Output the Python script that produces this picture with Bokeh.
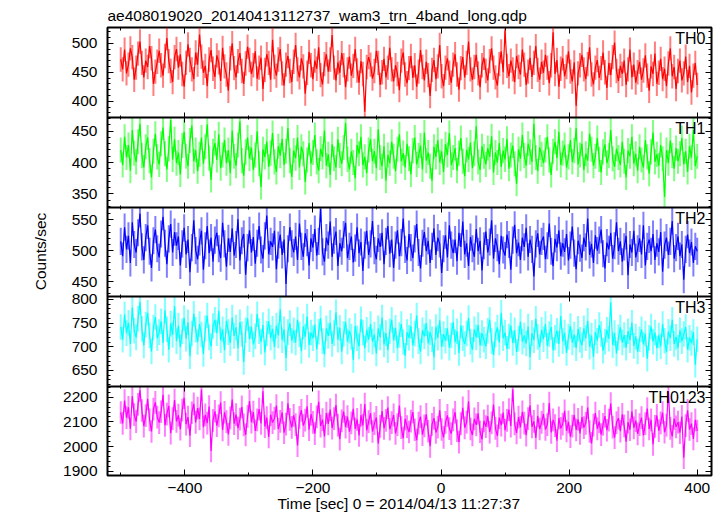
from bokeh.plotting import figure
from bokeh.models import (LinearAxis, SingleIntervalTicker, FixedTicker, CustomJSTickFormatter,
                          Label, Range1d, ColumnDataSource, Span)
from bokeh.embed import file_html
from bokeh.resources import INLINE

TITLE = "ae408019020_20140413112737_wam3_trn_4band_long.qdp"
X_LABEL = "Time [sec] 0 = 2014/04/13 11:27:37"
Y_LABEL = "Counts/sec"
BANDS = ["TH0", "TH1", "TH2", "TH3", "TH0123"]
COLORS = ["#ff0000", "#00ff00", "#0000ff", "#00ffff", "#ff00ff"]
ERRORS = [21, 20, 22, 27, 46]
T_START = -500
T_STEP = 3

TH0 = [472, 455, 489, 448, 463, 491, 476, 437, 458, 482,
       503, 466, 441, 470, 459, 495, 474, 430, 451, 468,
       487, 462, 444, 478, 509, 469, 452, 433, 476, 490,
       458, 481, 447, 425, 466, 498, 471, 455, 438, 484,
       463, 515, 477, 449, 461, 426, 472, 488, 456, 442,
       479, 467, 435, 492, 460, 446, 418, 474, 500, 457,
       441, 469, 483, 452, 430, 465, 494, 471, 447, 462,
       486, 439, 458, 475, 421, 454, 481, 466, 437, 506,
       459, 444, 472, 490, 448, 427, 463, 478, 452, 433,
       468, 497, 455, 441, 474, 460, 413, 449, 485, 462,
       438, 470, 456, 493, 445, 429, 464, 481, 451, 472,
       514, 458, 436, 467, 449, 483, 462, 424, 455, 477,
       444, 461, 490, 453, 432, 469, 447, 382, 459, 476,
       463, 439, 452, 487, 466, 428, 450, 473, 441, 458,
       492, 455, 434, 462, 447, 419, 470, 484, 446, 431,
       457, 478, 440, 462, 425, 451, 488, 459, 436, 468,
       445, 409, 454, 471, 438, 460, 497, 443, 426, 458,
       474, 449, 432, 463, 481, 446, 420, 457, 476, 441,
       466, 503, 455, 437, 459, 480, 448, 424, 462, 475,
       452, 436, 469, 491, 458, 441, 427, 464, 486, 450,
       522, 461, 443, 470, 455, 433, 478, 459, 446, 489,
       463, 428, 451, 475, 442, 466, 495, 454, 437, 468,
       449, 480, 458, 431, 462, 519, 447, 471, 425, 456,
       474, 443, 459, 486, 451, 434, 467, 392, 448, 462,
       480, 455, 438, 464, 493, 446, 429, 458, 471, 440,
       457, 484, 450, 423, 466, 445, 476, 501, 452, 435,
       461, 447, 470, 428, 455, 489, 441, 463, 432, 450,
       468, 437, 453, 479, 444, 418, 460, 447, 482, 430,
       449, 473, 438, 456, 426, 465, 491, 443, 459, 421,
       452, 470, 436, 448, 477, 433, 461, 415, 444, 466,
       428]

TH1 = [420, 396, 441, 408, 428, 387, 452, 415, 401, 433,
       462, 411, 392, 425, 440, 403, 376, 418, 446, 409,
       397, 430, 456, 414, 389, 422, 468, 405, 437, 399,
       416, 381, 427, 449, 410, 394, 435, 459, 402, 420,
       386, 413, 440, 398, 425, 461, 407, 372, 418, 431,
       404, 445, 391, 412, 436, 399, 420, 383, 451, 410,
       395, 428, 466, 403, 379, 417, 440, 406, 424, 388,
       412, 450, 398, 361, 421, 409, 434, 393, 415, 447,
       401, 385, 426, 411, 438, 396, 418, 455, 403, 377,
       419, 407, 440, 392, 425, 414, 369, 404, 431, 398,
       416, 444, 401, 387, 422, 409, 451, 395, 413, 380,
       429, 406, 392, 437, 411, 398, 424, 463, 405, 389,
       418, 400, 375, 428, 414, 441, 396, 409, 383, 420,
       437, 402, 418, 391, 453, 408, 394, 426, 371, 412,
       399, 433, 410, 386, 421, 445, 402, 415, 392, 430,
       406, 381, 419, 440, 397, 411, 427, 389, 448, 403,
       416, 394, 371, 425, 409, 436, 400, 418, 385, 429,
       412, 447, 396, 408, 423, 387, 415, 439, 402, 378,
       420, 405, 432, 391, 414, 458, 401, 388, 426, 410,
       397, 423, 409, 442, 384, 416, 400, 431, 393, 419,
       405, 438, 390, 412, 427, 398, 366, 421, 406, 444,
       411, 395, 430, 417, 401, 462, 408, 386, 424, 413,
       399, 420, 441, 404, 380, 418, 433, 407, 449, 396,
       415, 428, 392, 409, 436, 401, 419, 455, 397, 412,
       430, 388, 414, 403, 446, 421, 395, 410, 439, 405,
       384, 417, 429, 399, 411, 452, 406, 393, 422, 408,
       396, 433, 402, 376, 419, 410, 441, 398, 414, 387,
       425, 404, 392, 436, 409, 382, 417, 448, 401, 413,
       395, 428, 406, 345, 420, 399, 435, 411, 390, 423,
       402, 414, 439, 397, 418, 385, 426, 408, 452, 394,
       410]

TH2 = [515, 491, 538, 502, 524, 480, 546, 510, 497, 529,
       560, 506, 485, 521, 541, 499, 472, 516, 534, 503,
       489, 527, 555, 512, 478, 519, 543, 497, 530, 508,
       523, 476, 511, 537, 494, 518, 465, 505, 549, 500,
       486, 514, 532, 469, 508, 540, 496, 521, 482, 517,
       529, 503, 488, 545, 511, 474, 520, 498, 536, 492,
       510, 551, 484, 516, 527, 461, 505, 533, 497, 522,
       479, 512, 540, 501, 487, 524, 557, 494, 515, 506,
       532, 470, 509, 526, 493, 518, 446, 503, 538, 511,
       497, 523, 485, 544, 507, 490, 528, 513, 476, 520,
       505, 535, 492, 515, 568, 498, 482, 521, 509, 547,
       490, 517, 531, 475, 512, 499, 526, 545, 488, 507,
       523, 481, 504, 538, 496, 514, 467, 509, 532, 493,
       511, 548, 500, 486, 520, 506, 529, 478, 515, 540,
       495, 518, 472, 509, 533, 491, 513, 552, 502, 484,
       527, 505, 488, 519, 543, 497, 471, 512, 530, 499,
       516, 480, 507, 536, 493, 521, 511, 464, 503, 525,
       489, 541, 509, 496, 518, 483, 529, 506, 547, 494,
       512, 475, 522, 503, 490, 535, 499, 516, 468, 508,
       531, 497, 514, 549, 487, 520, 505, 478, 524, 501,
       492, 526, 510, 469, 517, 542, 496, 513, 485, 521,
       506, 537, 490, 518, 502, 458, 511, 528, 494, 515,
       523, 486, 508, 544, 499, 475, 519, 505, 533, 491,
       512, 498, 527, 484, 509, 539, 496, 470, 516, 504,
       488, 521, 506, 552, 493, 511, 480, 525, 500, 517,
       534, 495, 471, 513, 502, 529, 487, 508, 546, 499,
       515, 482, 506, 524, 460, 510, 497, 532, 489, 503,
       520, 494, 541, 476, 507, 518, 499, 527, 485, 512,
       498, 530, 466, 509, 521, 493, 515, 548, 487, 505,
       523, 491, 510, 453, 502, 526, 496, 514, 480, 507,
       499]

TH3 = [742, 715, 768, 729, 751, 706, 783, 734, 720, 759,
       795, 738, 703, 747, 772, 724, 690, 741, 763, 718,
       731, 754, 708, 777, 737, 694, 749, 725, 786, 712,
       745, 699, 733, 761, 717, 752, 680, 728, 770, 736,
       710, 748, 726, 685, 739, 766, 720, 701, 744, 757,
       729, 776, 714, 737, 693, 755, 731, 708, 762, 723,
       741, 697, 752, 727, 668, 735, 760, 716, 743, 705,
       722, 769, 733, 711, 746, 688, 728, 754, 719, 738,
       700, 745, 724, 779, 714, 737, 676, 731, 750, 713,
       735, 709, 757, 726, 691, 743, 721, 764, 704, 730,
       718, 747, 695, 732, 760, 712, 684, 739, 723, 751,
       706, 729, 773, 715, 740, 690, 727, 753, 711, 734,
       721, 672, 744, 718, 701, 758, 730, 697, 736, 715,
       748, 711, 726, 686, 739, 720, 762, 705, 729, 693,
       733, 757, 714, 740, 697, 725, 748, 710, 681, 731,
       719, 744, 703, 728, 766, 712, 690, 735, 722, 750,
       707, 731, 716, 678, 742, 719, 756, 700, 727, 713,
       739, 698, 724, 752, 710, 733, 687, 745, 718, 706,
       728, 761, 711, 694, 737, 720, 746, 703, 729, 715,
       701, 734, 757, 712, 683, 726, 741, 709, 772, 718,
       730, 696, 722, 745, 708, 735, 689, 717, 753, 711,
       724, 707, 743, 678, 729, 714, 759, 721, 699, 736,
       716, 748, 702, 727, 742, 693, 719, 734, 706, 765,
       712, 730, 687, 721, 744, 709, 726, 697, 738, 715,
       703, 739, 718, 755, 700, 724, 679, 731, 713, 746,
       727, 692, 711, 736, 717, 794, 704, 729, 686, 720,
       741, 709, 725, 698, 733, 714, 751, 702, 722, 690,
       716, 737, 705, 728, 675, 719, 743, 711, 730, 697,
       724, 701, 748, 713, 689, 732, 718, 757, 706, 721,
       698, 735, 712, 727, 742, 694, 719, 708, 731, 662,
       716]

TH0123 = [2138, 2094, 2186, 2117, 2159, 2072, 2204, 2129, 2101, 2171,
          2228, 2146, 2083, 2125, 2193, 2108, 2061, 2152, 2179, 2119,
          2097, 2141, 2210, 2086, 2132, 2165, 2054, 2113, 2188, 2102,
          2127, 2070, 2148, 2198, 2091, 2119, 2044, 2137, 2173, 2098,
          2156, 2112, 2231, 2079, 2128, 2095, 2162, 1982, 2106, 2143,
          2085, 2124, 2178, 2067, 2139, 2101, 2049, 2116, 2190, 2093,
          2130, 2075, 2111, 2161, 2088, 2047, 2122, 2184, 2099, 2140,
          2063, 2108, 2152, 2094, 2224, 2081, 2117, 2039, 2129, 2097,
          2114, 2166, 2071, 2102, 2138, 2056, 2091, 2175, 2110, 2078,
          2126, 2089, 2004, 2118, 2147, 2085, 2107, 2163, 2068, 2131,
          2098, 2052, 2120, 2181, 2083, 2109, 2041, 2136, 2092, 2150,
          2075, 2113, 2168, 2087, 2030, 2104, 2142, 2079, 2121, 2060,
          2096, 2153, 2072, 2110, 2045, 2127, 2086, 2172, 2066, 2101,
          2135, 2061, 2093, 2118, 2012, 2082, 2144, 2074, 2106, 2158,
          2070, 2097, 2128, 2053, 2089, 2166, 2077, 2034, 2112, 2081,
          2059, 2103, 2140, 2068, 2026, 2095, 2121, 2048, 2084, 2131,
          2062, 2001, 2090, 2115, 2057, 2079, 2147, 2069, 2037, 2098,
          2126, 2073, 2052, 2108, 2139, 2064, 2018, 2093, 2157, 2076,
          2099, 2183, 2071, 2047, 2112, 2088, 2135, 2060, 2029, 2104,
          2081, 2123, 2058, 2096, 2170, 2074, 2043, 2117, 2087, 2138,
          2066, 2106, 2150, 2083, 2232, 2092, 2055, 2119, 2078, 2141,
          2095, 2046, 2113, 2167, 2080, 2102, 2035, 2124, 2071, 2098,
          2132, 2069, 2089, 2176, 2057, 2108, 2085, 2024, 2116, 2074,
          2091, 2145, 2063, 2100, 2040, 2083, 2128, 2067, 2110, 2053,
          2119, 2077, 2094, 2158, 2061, 2013, 2087, 2136, 2072, 2101,
          2048, 2090, 2123, 2066, 2107, 2174, 2079, 2036, 2097, 2115,
          2062, 2131, 2084, 2020, 2099, 2068, 2143, 2076, 2105, 2051,
          2089, 2117, 2045, 2093, 2154, 2071, 2108, 2009, 2082, 2126,
          2064, 2096, 2138, 2058, 2087, 2223, 2074, 2041, 2113, 2080,
          2099, 2056, 2122, 1955, 2085, 2147, 2069, 2093, 2031, 2108,
          2063]

SERIES = [TH0, TH1, TH2, TH3, TH0123]
Y_RANGES = [(371.9, 527.1), (328.1, 471.9), (425.7, 569.9), (616.2, 806.3), (1882.6, 2243.4)]
Y_TICK = [50, 50, 50, 50, 100]
X_RANGE = (-520.7, 422.3)
X_TICK = 200

# ---- layout in pixels ----
FIG_W, FIG_H = 723, 516
B_LEFT, B_RIGHT, B_TOP, B_BOTTOM = 107, 12, 27, 41
FRAME_W = FIG_W - B_LEFT - B_RIGHT
FRAME_H = FIG_H - B_TOP - B_BOTTOM          # 448
PANEL_H = [90, 90, 89, 90, 89]               # top to bottom
FONT = "Liberation Sans"
FS = "15.5px"
NBSP = "\u00a0"

px_x = FRAME_W / (X_RANGE[1] - X_RANGE[0])

bases = []
acc = FRAME_H
for h in PANEL_H:
    acc -= h
    bases.append(acc)

p = figure(width=FIG_W, height=FIG_H, output_backend="svg", toolbar_location=None,
           x_range=Range1d(*X_RANGE), y_range=Range1d(0, FRAME_H),
           x_axis_location=None, y_axis_location=None,
           min_border_left=B_LEFT, min_border_right=B_RIGHT,
           min_border_top=B_TOP, min_border_bottom=B_BOTTOM)
p.xgrid.visible = False
p.ygrid.visible = False
p.outline_line_color = "black"
p.outline_line_width = 2
p.background_fill_color = "white"
p.border_fill_color = "white"

p.title.text = TITLE
p.title.align = "left"
p.title.text_font = FONT
p.title.text_font_size = FS
p.title.text_font_style = "normal"
p.title.text_color = "black"
p.title.standoff = 7

empty_fmt = CustomJSTickFormatter(code="return '';")
minus_fmt = CustomJSTickFormatter(code="return tick < 0 ? '\u2212' + String(-tick) : String(tick);")


def style(ax, labels, t_in=6, t_out=0, m_in=3, m_out=0):
    ax.axis_line_color = None
    ax.major_tick_in = t_in
    ax.major_tick_out = t_out
    ax.minor_tick_in = m_in
    ax.minor_tick_out = m_out
    ax.major_tick_line_color = "black"
    ax.minor_tick_line_color = "black"
    ax.major_label_text_font = FONT
    ax.major_label_text_font_size = FS
    ax.major_label_text_color = "black"
    ax.axis_label_text_font = FONT
    ax.axis_label_text_font_size = FS
    ax.axis_label_text_font_style = "normal"
    ax.axis_label_text_color = "black"
    if not labels:
        ax.formatter = empty_fmt


label_pos, label_txt = [], []
for i, vals in enumerate(SERIES):
    y0, y1 = Y_RANGES[i]
    h = PANEL_H[i]
    b = bases[i]
    u = (y1 - y0) / h
    start = y0 - b * u
    name = "p%d" % i
    p.extra_y_ranges[name] = Range1d(start, start + FRAME_H * u)

    # where this panel's tick values sit on the shared left label axis
    step = Y_TICK[i]
    v = step * int(-(-y0 // step))
    while v <= y1:
        label_pos.append(b + (v - y0) / u)
        label_txt.append(str(int(v)))
        v += step

    err = ERRORS[i]
    t = [T_START + T_STEP * k for k in range(len(vals))]
    src = ColumnDataSource(dict(t=t, v=vals,
                                lo=[max(v - err, y0) for v in vals],
                                hi=[min(v + err, y1) for v in vals]))
    p.segment(x0="t", y0="lo", x1="t", y1="hi", source=src, y_range_name=name,
              line_color=COLORS[i], line_alpha=0.5, line_width=2)
    p.line(x="t", y="v", source=src, y_range_name=name,
           line_color=COLORS[i], line_width=1.2)

    yl = LinearAxis(y_range_name=name, fixed_location=X_RANGE[0], bounds=(y0, y1),
                    ticker=SingleIntervalTicker(interval=Y_TICK[i], num_minor_ticks=5))
    style(yl, False)
    p.add_layout(yl, "left")
    yr = LinearAxis(y_range_name=name, fixed_location=X_RANGE[1], bounds=(y0, y1),
                    ticker=SingleIntervalTicker(interval=Y_TICK[i], num_minor_ticks=5))
    style(yr, False)
    p.add_layout(yr, "right")

    p.add_layout(Label(x=X_RANGE[1] - 6 / px_x, y=b + h - 10.8, text=BANDS[i],
                       text_align="right", text_baseline="alphabetic",
                       text_font=FONT, text_font_size="16px", text_color="black"))

    if i > 0:
        p.add_layout(Span(location=b + h, dimension="width",
                          line_color="black", line_width=2))
        xm = LinearAxis(fixed_location=b + h,
                        ticker=SingleIntervalTicker(interval=X_TICK, num_minor_ticks=2))
        style(xm, False, 5, 5, 2, 2)
        p.add_layout(xm, "below")

# shared left axis carrying the tick labels of all panels and the y title
order = sorted(range(len(label_pos)), key=lambda k: label_pos[k])
label_pos = [label_pos[k] for k in order]
label_txt = [label_txt[k] for k in order]
lab_fmt = CustomJSTickFormatter(args=dict(pos=label_pos, txt=label_txt), code="""
let best = 0;
for (let k = 0; k < pos.length; k++) {
  if (Math.abs(pos[k] - tick) < Math.abs(pos[best] - tick)) best = k;
}
return txt[best];
""")
ylab = LinearAxis(ticker=FixedTicker(ticks=label_pos, minor_ticks=[]),
                  bounds=(-16, FRAME_H), axis_label=Y_LABEL)
style(ylab, True, 0, 0, 0, 0)
ylab.formatter = lab_fmt
ylab.major_label_standoff = 10
ylab.axis_label_standoff = 11
p.add_layout(ylab, "left")

# top and bottom x axes
xt = LinearAxis(fixed_location=FRAME_H, ticker=SingleIntervalTicker(interval=X_TICK, num_minor_ticks=2))
style(xt, False)
p.add_layout(xt, "above")
xb = LinearAxis(ticker=SingleIntervalTicker(interval=X_TICK, num_minor_ticks=2),
                axis_label=X_LABEL + NBSP * 5)
style(xb, True)
xb.formatter = minus_fmt
xb.major_label_standoff = 7
xb.axis_label_standoff = -1
p.add_layout(xb, "below")

open("out.html", "w").write(file_html(p, INLINE))
